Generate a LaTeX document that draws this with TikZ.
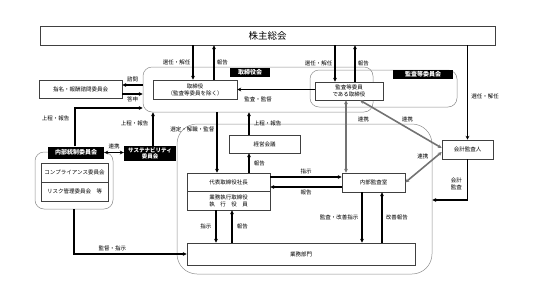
\documentclass[tikz,border=0pt]{standalone}
\usepackage{fontspec}
\setmainfont{Noto Sans CJK JP}
\usetikzlibrary{arrows.meta, positioning, calc}

\begin{document}
\begin{tikzpicture}[>={Stealth[length=4pt,width=3.8pt]}, x=1pt, y=-1pt,
    box/.style={draw=black!75, line width=0.5pt, fill=white, inner sep=0pt, align=center, font=\fontsize{5.5}{7}\selectfont},
    grp/.style={draw=black!45, line width=0.5pt, inner sep=0pt, rounded corners=9pt},
    tag/.style={fill=black, text=white, inner sep=0pt, align=center, font=\bfseries\fontsize{6}{6.5}\selectfont},
    lbl/.style={font=\fontsize{5.5}{6.5}\selectfont, inner sep=1pt, align=center},
    arr/.style={->, line width=1.5pt},
    link/.style={<->, line width=1.6pt, draw=black!55}]
        \useasboundingbox (0,0) rectangle (538,295);
        % Shareholders' meeting
        \node[box, minimum width=455, minimum height=19, font=\fontsize{9.5}{10}\selectfont] (kabu) at (267.5,35.5) {株主総会};
        % Board of directors and audit committee
        \node[grp, minimum width=230, minimum height=45] (boardgrp) at (258,89.5) {};
        \node[grp, minimum width=147, minimum height=37] (acgrp) at (383.5,88.5) {};
        \node[tag, minimum width=40, minimum height=9] (boardtag) at (250,72.5) {取締役会};
        \node[tag, minimum width=60, minimum height=9] (actag) at (423,74.5) {監査等委員会};
        \node[box, minimum width=84, minimum height=19] (tori) at (195,89.5) {取締役\\（監査等委員を除く）};
        \node[box, minimum width=68, minimum height=18] (kansa) at (349,91) {監査等委員\\である取締役};
        \node[box, minimum width=83, minimum height=18] (nom) at (80.5,89) {指名・報酬諮問委員会};
        % Internal control committees
        \node[grp, minimum width=78, minimum height=57] (icgrp) at (74,180.5) {};
        \node[box, minimum width=67, minimum height=19] (comp) at (74.5,172.5) {コンプライアンス委員会};
        \node[box, minimum width=67, minimum height=19] (risk) at (74.5,191.5) {リスク管理委員会\quad 等};
        \node[tag, minimum width=56, minimum height=12] (ictag) at (76,152.5) {内部統制委員会};
        \node[tag, minimum width=52, minimum height=15, font=\bfseries\fontsize{5.5}{6}\selectfont] (sustag) at (150,153.5) {サステナビリティ\\委員会};
        % Execution side
        \node[grp, rounded corners=20pt, minimum width=255, minimum height=150] (exgrp) at (304.5,199) {};
        \node[box, minimum width=71, minimum height=18] (keiei) at (264.5,144) {経営会議};
        \node[box, minimum width=83, minimum height=18] (ceo) at (228.5,182) {代表取締役社長};
        \node[box, minimum width=83, minimum height=19] (exe) at (228.5,200.5) {業務執行取締役\\執\hspace{1em}行\hspace{1em}役\hspace{1em}員};
        \node[box, minimum width=63, minimum height=19] (ia) at (373.5,182.5) {内部監査室};
        \node[box, minimum width=228, minimum height=22] (biz) at (301,254) {業務部門};
        \node[box, minimum width=51, minimum height=19] (ca) at (467.5,149.5) {会計監査人};

        % Shareholders' meeting links
        \draw[arr] ([xshift=-2pt]tori.north |- kabu.south) -- node[lbl, left=1pt] (l1) {選任・解任} ([xshift=-2pt]tori.north);
        \draw[arr] ([xshift=19pt]tori.north) -- node[lbl, right=1pt] (l2) {報告} ([xshift=19pt]tori.north |- kabu.south);
        \draw[arr] ([xshift=-14pt]kansa.north |- kabu.south) -- node[lbl, left=1pt] (l3) {選任・解任} ([xshift=-14pt]kansa.north);
        \draw[arr] ([xshift=6pt]kansa.north) -- node[lbl, right=1pt] (l4) {報告} ([xshift=6pt]kansa.north |- kabu.south);
        \draw[arr] (kabu.south -| ca.north) -- node[lbl, pos=0.54, right=2pt] (l5) {選任・解任} (ca.north);
        % Board level
        \draw[arr] (kansa.west |- tori.east) -- node[lbl, pos=0.73, below=6pt] (l6) {監査・監督} (tori.east);
        \draw[arr] ([yshift=4pt]nom.east -| boardgrp.west) -- node[lbl, above=1pt] (l7) {諮問} ([yshift=4pt]nom.east);
        \draw[arr] ([yshift=-5pt]nom.east) -- node[lbl, below=1pt] (l8) {答申} ([yshift=-5pt]nom.east -| boardgrp.west);
        \draw[arr] ([xshift=-1pt]ictag.north) |- node[lbl, pos=0.37, left=4pt] (l9) {上程・報告} ([yshift=-18.5pt]boardgrp.west);
        \draw[arr] ([xshift=3pt]sustag.north) -- node[lbl, pos=0.68, left=3pt] (l10) {上程・報告} ([xshift=3pt]sustag.north |- boardgrp.south);
        \draw[<->, line width=1.2pt] (ictag.east) -- node[lbl, above=2pt] (l11) {連携} (ictag.east -| sustag.west);
        \draw[arr] (icgrp.south) |- node[lbl, pos=0.67, above=1pt] (l12) {監督・指示} (biz.west);
        % Execution level
        \draw[arr] ([xshift=-11.5pt]ceo.north |- boardgrp.south) -- node[lbl, pos=0.28, left=1pt] (l13) {選定・解職・監督} ([xshift=-11.5pt]ceo.north);
        \draw[arr] ([xshift=-15.5pt]keiei.north) -- node[lbl, right=3pt] (l14) {上程・報告} ([xshift=-15.5pt]keiei.north |- boardgrp.south);
        \draw[arr] ([xshift=20.5pt]ceo.north) -- node[lbl, right=3pt] (l15) {報告} ([xshift=20.5pt]ceo.north |- keiei.south);
        \draw[arr] ([yshift=5pt]ceo.east) -- node[lbl, above=1pt] (l16) {指示} ([yshift=5pt]ceo.east -| ia.west);
        \draw[arr] ([yshift=-4.5pt]ia.west) -- node[lbl, below=1pt] (l17) {報告} ([yshift=-4.5pt]ia.west -| ceo.east);
        \draw[arr] ([xshift=-12.5pt]exe.south) -- node[lbl, left=3pt] (l18) {指示} ([xshift=-12.5pt]exe.south |- biz.north);
        \draw[arr] ([xshift=3.5pt]exe.south |- biz.north) -- node[lbl, right=3pt] (l19) {報告} ([xshift=3.5pt]exe.south);
        \draw[arr] ([xshift=-11.5pt]ia.south) -- node[lbl, left=2pt] (l20) {監査・改善指示} ([xshift=-11.5pt]ia.south |- biz.north);
        \draw[arr] ([xshift=8.5pt]ia.south |- biz.north) -- node[lbl, right=2pt] (l21) {改善報告} ([xshift=8.5pt]ia.south);
        % Audit cooperation
        \draw[link] ([xshift=-3pt]kansa.south) -- node[lbl, pos=0.27, right=10pt] (l22) {連携} ([xshift=-3pt]kansa.south |- ia.north);
        \draw[link] ([xshift=11pt]kansa.south) -- node[lbl, pos=0.58, above=4pt] (l23) {連携} ([yshift=1.5pt]ca.west);
        \draw[link] ([yshift=-2.5pt]ca.west) -- node[lbl, pos=0.3, above left=1pt] (l24) {連携} (ia.east);
        \draw[arr] (ca.south) |- node[lbl, pos=0.3, left=4pt] (l25) {会計\\監査} ([yshift=-1pt]exgrp.east);
    \end{tikzpicture}
\end{document}
